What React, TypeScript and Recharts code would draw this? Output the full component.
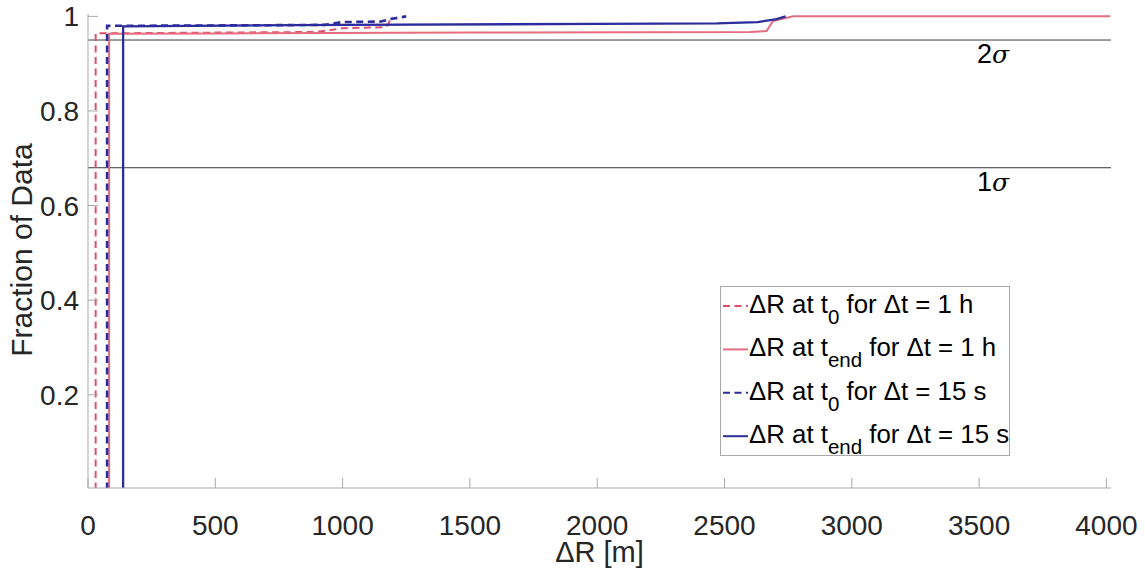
import React from 'react';
import { LineChart, Line, XAxis, YAxis, ReferenceLine, Legend } from 'recharts';

// ---- axes ----
const X_TICKS = [0, 500, 1000, 1500, 2000, 2500, 3000, 3500, 4000];
const Y_TICKS = [0.2, 0.4, 0.6, 0.8, 1];
const X_DOMAIN: [number, number] = [0, 4018];
const Y_DOMAIN: [number, number] = [0.003, 1.005];

// ---- sigma reference levels ----
const SIGMA_LEVELS = [0.95, 0.68];
const SIGMA_NAMES = ['2', '1'];

// ---- series: ΔR at t0, Δt = 1 h ----
const r1hT0X = [30, 30, 300, 900, 1000, 1170, 1180, 1195];
const r1hT0Y = [0, 0.964, 0.965, 0.967, 0.975, 0.977, 0.985, 1.0];
// ---- series: ΔR at tend, Δt = 1 h ----
const r1hEndX = [83, 83, 500, 1500, 2600, 2665, 2690, 2770, 4015];
const r1hEndY = [0, 0.963, 0.964, 0.966, 0.967, 0.969, 0.99, 1.0, 1.0];
// ---- series: ΔR at t0, Δt = 15 s ----
const r15sT0X = [75, 75, 600, 930, 1000, 1150, 1185, 1250];
const r15sT0Y = [0, 0.98, 0.981, 0.982, 0.988, 0.989, 0.994, 1.0];
// ---- series: ΔR at tend, Δt = 15 s ----
const r15sEndX = [138, 138, 1000, 2000, 2470, 2630, 2705, 2740];
const r15sEndY = [0, 0.979, 0.982, 0.984, 0.985, 0.988, 0.994, 1.0];

const LEGEND_PREFIX = 'ΔR at t';
const LEGEND_SUBS = ['0', 'end', '0', 'end'];
const LEGEND_SUFFIXES = [' for Δt = 1 h', ' for Δt = 1 h', ' for Δt = 15 s', ' for Δt = 15 s'];

const zip = (xs: number[], ys: number[]) => xs.map((x, i) => ({ x, y: ys[i] }));

const RED = '#e0506a';
const RED_LIGHT = '#e66c80';
const BLUE = '#2c2c9c';

const SERIES = [
  { data: zip(r1hT0X, r1hT0Y), color: RED, width: 2, dash: '7 4.5' },
  { data: zip(r1hEndX, r1hEndY), color: RED_LIGHT, width: 2, dash: undefined },
  { data: zip(r15sT0X, r15sT0Y), color: BLUE, width: 2.6, dash: '7 4.5' },
  { data: zip(r15sEndX, r15sEndY), color: BLUE, width: 2.3, dash: undefined },
];

const FONT = '"Liberation Sans", Arial, Helvetica, sans-serif';
const AXIS_GREY = '#a9a9a9';
const TEXT_DARK = '#262626';

const LegendBox = () => (
  <div
    style={{
      width: 290,
      height: 170,
      border: `1px solid ${AXIS_GREY}`,
      background: '#fff',
      boxSizing: 'border-box',
    }}
  >
    <svg width={288} height={168} style={{ display: 'block', fontFamily: FONT, overflow: 'visible' }}>
      {SERIES.map((s, i) => {
        const base = 26 + i * 43.4;
        return (
          <g key={i}>
            <line
              x1={2}
              x2={27}
              y1={base - 7}
              y2={base - 7}
              stroke={s.color}
              strokeWidth={2}
              strokeDasharray={s.dash}
            />
            <text x={28} y={base} fontSize={25.8} fill="#000" style={{ whiteSpace: 'pre' }}>
              {LEGEND_PREFIX}
              <tspan dy={11} fontSize={20.5}>
                {LEGEND_SUBS[i]}
              </tspan>
              <tspan dy={-11} fontSize={25.8}>
                {LEGEND_SUFFIXES[i]}
              </tspan>
            </text>
          </g>
        );
      })}
    </svg>
  </div>
);

const sigmaLabel = (name: string) => (props: any) => {
  const vb = props.viewBox || {};
  return (
    <text x={(vb.x ?? 0) + 905} y={(vb.y ?? 0) + 23} textAnchor="middle" fontSize={27} fill="#000" fontFamily={FONT}>
      {name}
      <tspan fontStyle="italic" fontFamily='"DejaVu Serif", serif' fontSize={25}>
        σ
      </tspan>
    </text>
  );
};

const YLabel = (props: any) => {
  const vb = props.viewBox || {};
  const cx = (vb.x ?? 0) + 32;
  const cy = (vb.y ?? 0) + (vb.height ?? 0) / 2 - 1;
  return (
    <text
      transform={`translate(${cx}, ${cy}) rotate(-90)`}
      textAnchor="middle"
      fontSize={30}
      fill={TEXT_DARK}
      fontFamily={FONT}
    >
      Fraction of Data
    </text>
  );
};

export default function App() {
  return (
    <div style={{ width: 1145, height: 572, fontFamily: FONT, background: '#fff' }}>
      <style>{'body{margin:0;background:#fff}'}</style>
      <LineChart width={1145} height={572} margin={{ top: 14, right: 34, left: 0, bottom: 0 }}>
        <XAxis
          xAxisId={0}
          dataKey="x"
          type="number"
          domain={X_DOMAIN}
          ticks={X_TICKS}
          allowDataOverflow
          height={84}
          stroke={AXIS_GREY}
          tickSize={-10}
          tickMargin={37}
          tick={{ fontSize: 28, fill: TEXT_DARK }}
          label={{ value: 'ΔR [m]', position: 'insideBottom', offset: 10, fontSize: 29, fill: TEXT_DARK }}
        />
        <XAxis
          xAxisId="top"
          orientation="top"
          dataKey="x"
          type="number"
          domain={X_DOMAIN}
          ticks={X_TICKS}
          allowDataOverflow
          height={0}
          stroke={AXIS_GREY}
          tickSize={-10}
          tick={() => <g />}
        />
        <YAxis
          yAxisId={0}
          type="number"
          domain={Y_DOMAIN}
          ticks={Y_TICKS}
          allowDataOverflow
          width={88}
          stroke={AXIS_GREY}
          tickSize={-10}
          tickMargin={19}
          tick={{ fontSize: 28, fill: TEXT_DARK }}
          label={{ content: YLabel }}
        />
        <YAxis
          yAxisId="right"
          orientation="right"
          type="number"
          domain={Y_DOMAIN}
          ticks={Y_TICKS}
          allowDataOverflow
          width={0}
          stroke={AXIS_GREY}
          tickSize={-10}
          tick={() => <g />}
        />
        {SIGMA_LEVELS.map((lvl, i) => (
          <ReferenceLine
            key={lvl}
            y={lvl}
            yAxisId={0}
            xAxisId={0}
            stroke="#3a3a3a"
            strokeWidth={1}
            label={{ content: sigmaLabel(SIGMA_NAMES[i]) }}
          />
        ))}
        {SERIES.map((s, i) => (
          <Line
            key={i}
            xAxisId={0}
            yAxisId={0}
            data={s.data}
            dataKey="y"
            type="linear"
            stroke={s.color}
            strokeWidth={s.width}
            strokeDasharray={s.dash}
            dot={false}
            activeDot={false}
            isAnimationActive={false}
          />
        ))}
        <Legend
          layout="vertical"
          align="center"
          verticalAlign="middle"
          wrapperStyle={{ left: 720, top: 286, width: 290, height: 170 }}
          content={() => <LegendBox />}
        />
      </LineChart>
    </div>
  );
}
